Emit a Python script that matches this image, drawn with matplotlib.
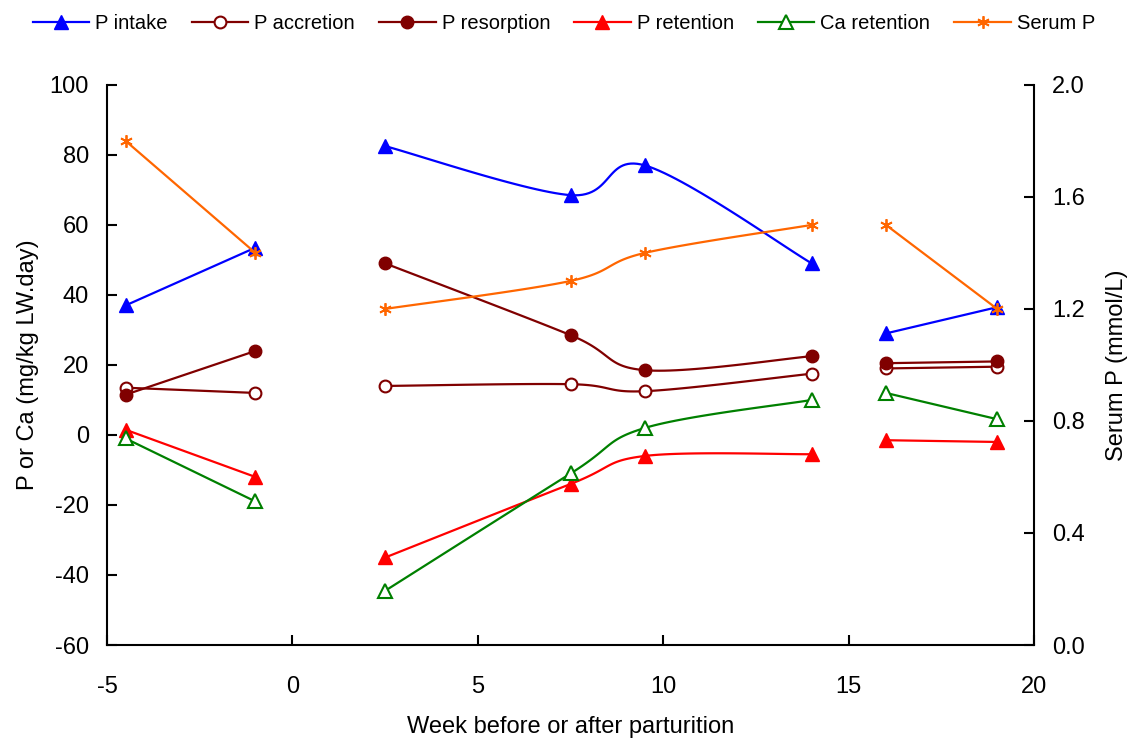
import numpy as np
import matplotlib
matplotlib.use("Agg")
import matplotlib.pyplot as plt

plt.rcParams['font.family'] = ['Liberation Sans', 'DejaVu Sans']
plt.rcParams['axes.unicode_minus'] = False

# weeks relative to parturition, three separate periods
weeks_a = [-4.5, -1]
weeks_b = [2.5, 7.5, 9.5, 14]
weeks_c = [16, 19]

# mg/kg LW.day
p_intake = [[37, 53.5], [82.5, 68.5, 77, 49], [29, 36.5]]
p_accretion = [[13.5, 12], [14, 14.5, 12.5, 17.5], [19, 19.5]]
p_resorption = [[11.5, 24], [49, 28.5, 18.5, 22.5], [20.5, 21]]
p_retention = [[1.5, -12], [-35, -14, -6, -5.5], [-1.5, -2]]
ca_retention = [[-1, -19], [-44.5, -11, 2, 10], [12, 4.5]]
# mmol/L (right axis)
serum_p = [[1.80, 1.40], [1.20, 1.30, 1.40, 1.50], [1.50, 1.20]]


def smooth(xs, ys, n=30):
    # Catmull-Rom style smoothing, like the spreadsheet "smoothed line"
    xs = np.asarray(xs, float)
    ys = np.asarray(ys, float)
    if len(xs) < 3:
        return xs, ys
    px = np.concatenate([[xs[0]], xs, [xs[-1]]])
    py = np.concatenate([[ys[0]], ys, [ys[-1]]])
    ox, oy = [], []
    t = np.linspace(0, 1, n)
    for i in range(1, len(px) - 2):
        x0, x1, x2, x3 = px[i - 1:i + 3]
        y0, y1, y2, y3 = py[i - 1:i + 3]
        c1x, c1y = x1 + (x2 - x0) / 6, y1 + (y2 - y0) / 6
        c2x, c2y = x2 - (x3 - x1) / 6, y2 - (y3 - y1) / 6
        bx = (1 - t) ** 3 * x1 + 3 * (1 - t) ** 2 * t * c1x + 3 * (1 - t) * t ** 2 * c2x + t ** 3 * x2
        by = (1 - t) ** 3 * y1 + 3 * (1 - t) ** 2 * t * c1y + 3 * (1 - t) * t ** 2 * c2y + t ** 3 * y2
        ox.extend(bx)
        oy.extend(by)
    return np.array(ox), np.array(oy)


fig = plt.figure(figsize=(11.28, 7.38), dpi=100)
ax = fig.add_axes([0.0949, 0.126, 0.822, 0.759])
ax2 = ax.twinx()

series = [
    ("P intake", p_intake, ax, dict(color="#0000FF", marker="^", mfc="#0000FF", ms=10)),
    ("P accretion", p_accretion, ax, dict(color="#800000", marker="o", mfc="white", ms=8.5, mew=1.5)),
    ("P resorption", p_resorption, ax, dict(color="#800000", marker="o", mfc="#800000", ms=9)),
    ("P retention", p_retention, ax, dict(color="#FF0000", marker="^", mfc="#FF0000", ms=10)),
    ("Ca retention", ca_retention, ax, dict(color="#008000", marker="^", mfc="white", ms=10, mew=1.5)),
    ("Serum P", serum_p, ax2, dict(color="#FF6600", marker=(6, 2, 0), mfc="#FF6600", ms=9, mew=1.3)),
]

handles = []
for name, vals, a, st in series:
    for xs, ys in zip([weeks_a, weeks_b, weeks_c], vals):
        sx, sy = smooth(xs, ys)
        a.plot(sx, sy, color=st["color"], lw=1.6, zorder=2)
        a.plot(xs, ys, ls="none", color=st["color"], marker=st["marker"],
               mfc=st["mfc"], mec=st["color"], ms=st["ms"], mew=st.get("mew", 1), zorder=3)
    h, = a.plot([], [], color=st["color"], lw=1.6, marker=st["marker"], mfc=st["mfc"],
                mec=st["color"], ms=st["ms"], mew=st.get("mew", 1))
    handles.append(h)

ax.set_xlim(-5, 20)
ax.set_ylim(-60, 100)
ax.set_xticks(range(-5, 21, 5))
ax.set_yticks(range(-60, 101, 20))
ax2.set_ylim(0, 2.0)
ax2.set_yticks([0.0, 0.4, 0.8, 1.2, 1.6, 2.0])
ax2.set_yticklabels(["0.0", "0.4", "0.8", "1.2", "1.6", "2.0"])

for a in (ax, ax2):
    a.spines["top"].set_visible(False)
    for s in a.spines.values():
        s.set_linewidth(1.5)
    a.tick_params(direction="in", length=7, width=1.5, labelsize=17, pad=13)
ax.tick_params(axis="x", pad=22)
ax.spines["right"].set_visible(False)
ax2.spines["left"].set_visible(False)
ax2.spines["bottom"].set_visible(False)

ax.set_xlabel("Week before or after parturition", fontsize=17, labelpad=13)
ax.set_ylabel("P or Ca (mg/kg LW.day)", fontsize=17, labelpad=8)
ax2.set_ylabel("Serum P (mmol/L)", fontsize=17, labelpad=15)

fig.legend(handles, [s[0] for s in series], loc="upper center", bbox_to_anchor=(0.5, 1.005),
           ncol=6, frameon=False, fontsize=14.5, handlelength=2.8, columnspacing=1.2,
           handletextpad=0.3)

fig.savefig("out.png", dpi=100)
